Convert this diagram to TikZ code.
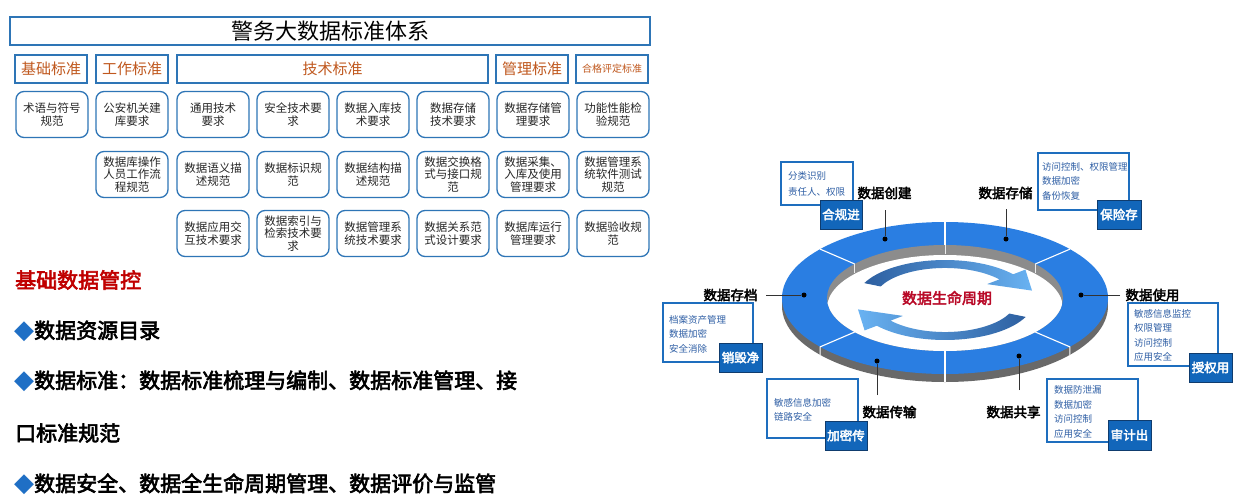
\documentclass[tikz,border=0pt]{standalone}
\usepackage{fontspec}
\setmainfont{Noto Sans CJK SC}[AutoFakeBold=3]
\newfontfamily\dejavu{DejaVu Sans}
\usetikzlibrary{calc}
\definecolor{bblue}{RGB}{46,117,182}
\definecolor{catcol}{RGB}{192,88,30}
\definecolor{redt}{RGB}{192,0,0}
\definecolor{dblue}{RGB}{31,111,197}
\definecolor{ringblue}{RGB}{42,126,226}
\definecolor{sidegray}{RGB}{105,105,105}
\definecolor{wallgray}{RGB}{140,140,140}
\definecolor{cblue}{RGB}{30,110,190}
\definecolor{ctxt}{RGB}{47,95,165}
\definecolor{tagblue}{RGB}{18,102,186}
\definecolor{tagborder}{RGB}{15,60,110}
\definecolor{arrdark}{RGB}{45,95,160}
\definecolor{arrlight}{RGB}{105,178,242}
\definecolor{lifered}{RGB}{185,10,40}
\newcommand\dia{{\dejavu\fontsize{26}{28}\selectfont\color{dblue}◆}}
\tikzset{
  titlebox/.style={draw=bblue, line width=1.6pt, minimum width=640pt, minimum height=28pt, inner sep=0pt, font=\fontsize{22}{24}\selectfont},
  catbox/.style={draw=bblue, line width=1.6pt, minimum height=28pt, inner sep=0pt, text=catcol, font=\fontsize{15}{17}\selectfont},
  stdbox/.style={draw=bblue, line width=1.3pt, rounded corners=8pt, minimum width=72pt, minimum height=46pt, inner sep=0pt, align=center, text=black!85, font=\fontsize{11.5}{12.8}\selectfont},
  lefttxt/.style={anchor=west, inner sep=0pt, font=\bfseries\fontsize{21}{24}\selectfont},
  ringlbl/.style={inner sep=0pt, font=\bfseries\fontsize{13.5}{15}\selectfont},
  dot/.style={circle, fill=black, minimum size=5pt, inner sep=0pt},
  leader/.style={draw=black!80, line width=0.8pt},
  cbox/.style={draw=cblue, line width=1.8pt, fill=white, inner sep=0pt},
  ctext/.style={anchor=north west, inner sep=0pt, align=left, text=ctxt, font=\fontsize{9.5}{14.5}\selectfont},
  ctag/.style={draw=tagborder, line width=0.8pt, fill=tagblue, text=white, inner sep=0pt, font=\bfseries\fontsize{12.5}{14}\selectfont},
  divider/.style={draw=white, line width=1.1pt}
}
\begin{document}
\begin{tikzpicture}[x=1pt,y=-1pt]
\fill[white] (0,0) rectangle (1240,501);
\useasboundingbox (0,0) rectangle (1240,501);

% ---------- standards table ----------
\node[titlebox] (title) at (330,31) {警务大数据标准体系};
\node[catbox, minimum width=72pt] (cat1) at (51,69) {基础标准};
\node[catbox, minimum width=72pt] (cat2) at (132,69) {工作标准};
\node[catbox, minimum width=311pt] (cat3) at (332.5,69) {技术标准};
\node[catbox, minimum width=72pt] (cat4) at (532,69) {管理标准};
\node[catbox, minimum width=72pt, font=\fontsize{10}{12}\selectfont] (cat5) at (612,69) {合格评定标准};

\node[stdbox] (r1c1) at (52,114.5) {术语与符号\\规范};
\node[stdbox] (r1c2) at (132,114.5) {公安机关建\\库要求};
\node[stdbox] (r1c3) at (213,114.5) {通用技术\\要求};
\node[stdbox] (r1c4) at (293,114.5) {安全技术要\\求};
\node[stdbox] (r1c5) at (373,114.5) {数据入库技\\术要求};
\node[stdbox] (r1c6) at (453,114.5) {数据存储\\技术要求};
\node[stdbox] (r1c7) at (533,114.5) {数据存储管\\理要求};
\node[stdbox] (r1c8) at (613,114.5) {功能性能检\\验规范};

\node[stdbox] (r2c2) at (132,174.5) {数据库操作\\人员工作流\\程规范};
\node[stdbox] (r2c3) at (213,174.5) {数据语义描\\述规范};
\node[stdbox] (r2c4) at (293,174.5) {数据标识规\\范};
\node[stdbox] (r2c5) at (373,174.5) {数据结构描\\述规范};
\node[stdbox] (r2c6) at (453,174.5) {数据交换格\\式与接口规\\范};
\node[stdbox] (r2c7) at (533,174.5) {数据采集、\\入库及使用\\管理要求};
\node[stdbox] (r2c8) at (613,174.5) {数据管理系\\统软件测试\\规范};

\node[stdbox] (r3c3) at (213,233.5) {数据应用交\\互技术要求};
\node[stdbox] (r3c4) at (293,233.5) {数据索引与\\检索技术要\\求};
\node[stdbox] (r3c5) at (373,233.5) {数据管理系\\统技术要求};
\node[stdbox] (r3c6) at (453,233.5) {数据关系范\\式设计要求};
\node[stdbox] (r3c7) at (533,233.5) {数据库运行\\管理要求};
\node[stdbox] (r3c8) at (613,233.5) {数据验收规\\范};

% ---------- left text ----------
\node[lefttxt, text=redt] (h0) at (15,280) {基础数据管控};
\node[lefttxt] (h1) at (14,331) {\dia 数据资源目录};
\node[lefttxt] (h2) at (14,381) {\dia 数据标准：数据标准梳理与编制、数据标准管理、接};
\node[lefttxt] (h3) at (15,433) {口标准规范};
\node[lefttxt] (h4) at (14,484) {\dia 数据安全、数据全生命周期管理、数据评价与监管};

% ---------- lifecycle ring ----------
\fill[sidegray] (945,306) ellipse[x radius=163, y radius=76];
\fill[sidegray] (782,298) rectangle (1108,306);
\fill[ringblue] (945,298) ellipse[x radius=163, y radius=76];
\fill[wallgray] (945,298) ellipse[x radius=118, y radius=53];
\begin{scope}
  \clip (945,298) ellipse[x radius=118, y radius=53];
  \fill[white] (945,308) ellipse[x radius=118, y radius=53];
\end{scope}
\foreach \a in {-140,-90,-40}{
  \draw[divider] ($(945,298)+(\a:118 and 53)$) -- ($(945,298)+(\a:163 and 76)$);
  \draw[draw=white!85!gray, line width=0.9pt] ($(945,298)+(\a:118 and 53)$) -- ++(0,9);
}
\foreach \a in {40,90,140}{
  \draw[divider] ($(945,298)+(\a:118 and 53)$) -- ($(945,298)+(\a:163 and 76)$) -- ++(0,8);
}

% cycle arrows
\shade[left color=arrdark, right color=arrlight]
  (864.3,283.1) arc[start angle=205, end angle=320, x radius=89, y radius=40]
  -- (1025.4,269.6) -- (1032,290.6) -- (987.1,284.1)
  -- (999.4,279.4) arc[start angle=320, end angle=205, x radius=71, y radius=32] -- cycle;
\shade[left color=arrlight, right color=arrdark]
  (1025.7,316.9) arc[start angle=25, end angle=140, x radius=89, y radius=40]
  -- (864.6,330.4) -- (858,309.4) -- (902.9,315.9)
  -- (890.6,320.6) arc[start angle=140, end angle=25, x radius=71, y radius=32] -- cycle;

\node[inner sep=0pt, text=lifered, font=\bfseries\fontsize{15}{17}\selectfont] (life) at (947,298) {数据生命周期};

% labels, leaders, dots
\node[ringlbl] (l1) at (884.5,193) {数据创建};
\node[ringlbl] (l2) at (1005.5,193) {数据存储};
\node[ringlbl] (l3) at (730.5,295) {数据存档};
\node[ringlbl] (l4) at (1152.5,295) {数据使用};
\node[ringlbl] (l5) at (889.5,412) {数据传输};
\node[ringlbl] (l6) at (1013.5,412) {数据共享};
\node[dot] (d1) at (885,239) {};
\node[dot] (d2) at (1006,239) {};
\node[dot] (d3) at (804,295) {};
\node[dot] (d4) at (1081,295) {};
\node[dot] (d5) at (877,361) {};
\node[dot] (d6) at (1019,356) {};
\coordinate (e1) at (885,210);
\coordinate (e2) at (1006,209);
\coordinate (e3) at (766,295);
\coordinate (e4) at (1120,295);
\coordinate (e5) at (877,395);
\coordinate (e6) at (1019,390);
\draw[leader] (e1) -- (d1);
\draw[leader] (e2) -- (d2);
\draw[leader] (e3) -- (d3);
\draw[leader] (e4) -- (d4);
\draw[leader] (e5) -- (d5);
\draw[leader] (e6) -- (d6);

% callouts
\node[cbox, minimum width=72pt, minimum height=43pt] (b1) at (817,183.5) {};
\node[ctext, font=\fontsize{9.5}{16}\selectfont] (x1) at (788,171.8) {分类识别\\责任人、权限};
\node[ctag, minimum width=42pt, minimum height=29pt] (t1) at (841,214.5) {合规进};

\node[cbox, minimum width=91pt, minimum height=57pt] (b2) at (1083.5,181.5) {};
\node[ctext] (x2) at (1042,161.8) {访问控制、权限管理\\数据加密\\备份恢复};
\node[ctag, minimum width=44pt, minimum height=29pt] (t2) at (1119,214.5) {保险存};

\node[cbox, minimum width=90pt, minimum height=59pt] (b3) at (708,332.5) {};
\node[ctext] (x3) at (669,314.8) {档案资产管理\\数据加密\\安全消除};
\node[ctag, minimum width=43pt, minimum height=29pt] (t3) at (740.5,357.5) {销毁净};

\node[cbox, minimum width=90pt, minimum height=63pt] (b4) at (1173,334.5) {};
\node[ctext] (x4) at (1134,308.8) {敏感信息监控\\权限管理\\访问控制\\应用安全};
\node[ctag, minimum width=43pt, minimum height=29pt] (t4) at (1210.5,367.5) {授权用};

\node[cbox, minimum width=91pt, minimum height=59pt] (b5) at (812.5,408.5) {};
\node[ctext] (x5) at (774,397.8) {敏感信息加密\\链路安全};
\node[ctag, minimum width=42pt, minimum height=29pt] (t5) at (846,435.5) {加密传};

\node[cbox, minimum width=91pt, minimum height=63pt] (b6) at (1092.5,410.5) {};
\node[ctext] (x6) at (1054,385.8) {数据防泄漏\\数据加密\\访问控制\\应用安全};
\node[ctag, minimum width=43pt, minimum height=30pt] (t6) at (1129.5,435) {审计出};
\end{tikzpicture}
\end{document}
